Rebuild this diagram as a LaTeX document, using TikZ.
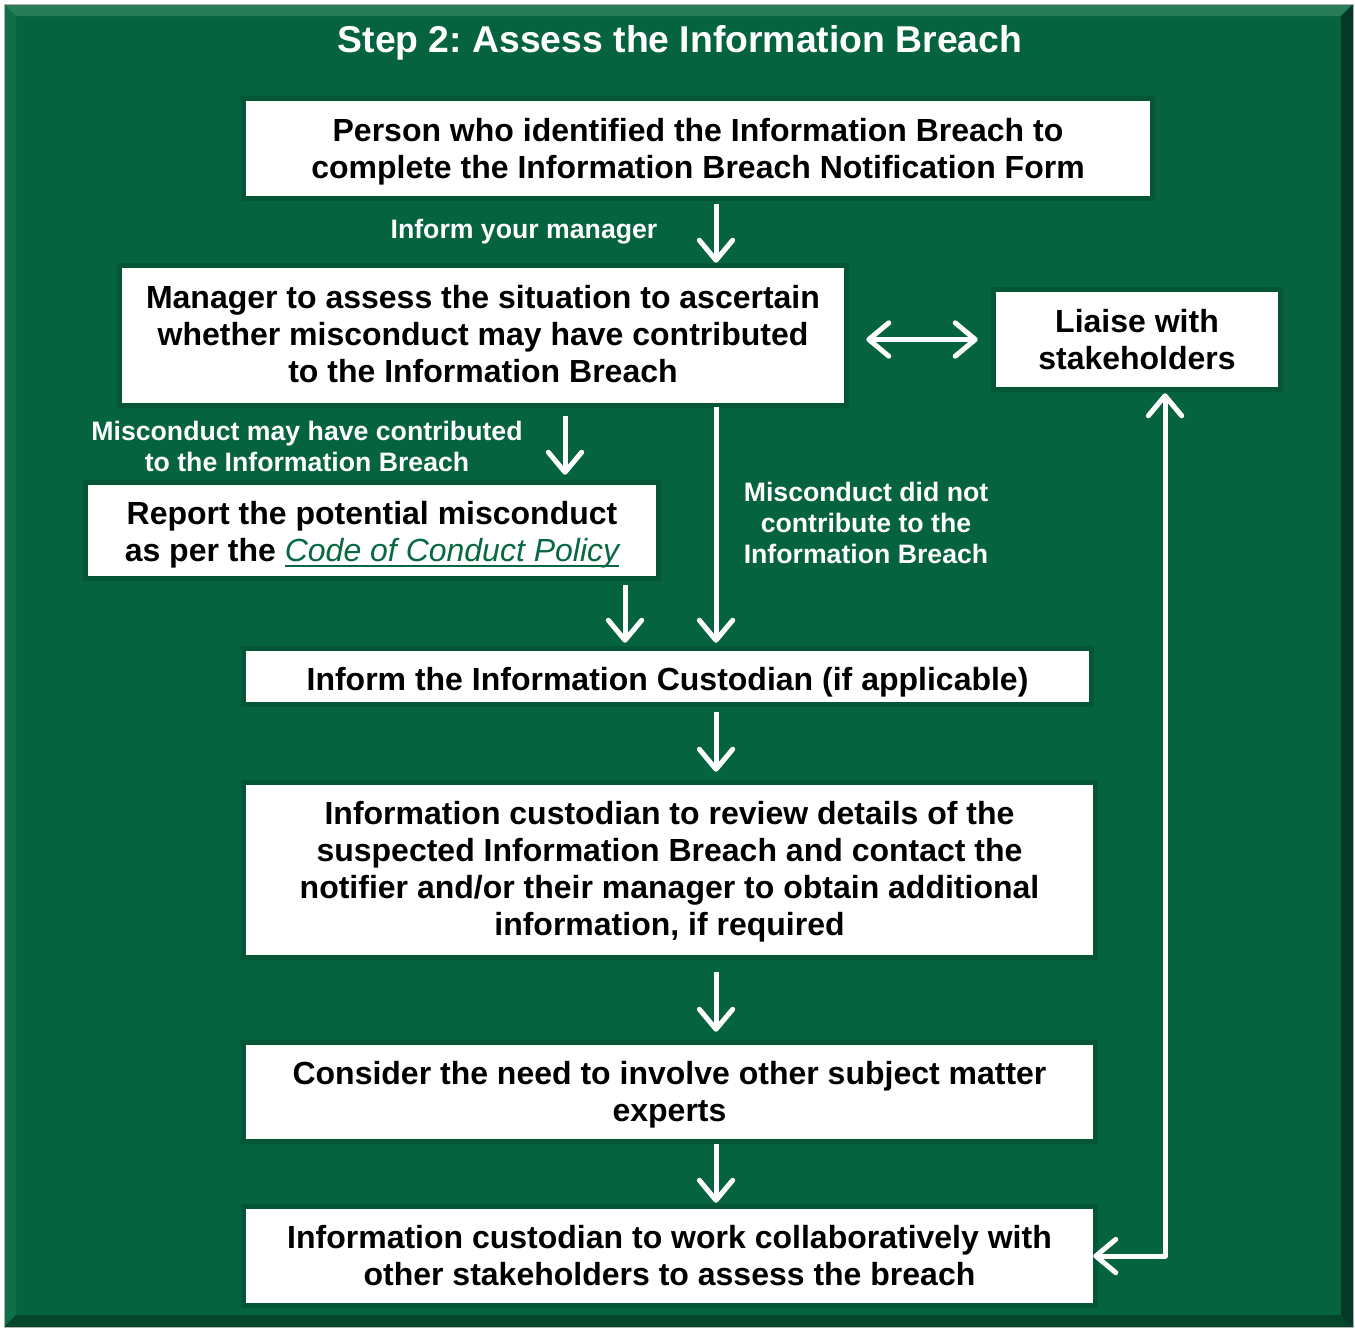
\documentclass[tikz,border=0pt]{standalone}
\usepackage{fontspec}
\setmainfont{Liberation Sans}
\usetikzlibrary{arrows.meta,calc}
\definecolor{bg}{RGB}{6,99,64}
\definecolor{shadowg}{RGB}{4,86,55}
\definecolor{bevtop}{RGB}{40,124,88}
\definecolor{bevleft}{RGB}{16,110,73}
\definecolor{bevright}{RGB}{2,58,37}
\definecolor{bevbot}{RGB}{3,70,44}
\definecolor{linkg}{RGB}{8,104,66}
\definecolor{rim}{RGB}{175,180,178}
\newsavebox{\linkbox}
\newcommand\linkul[1]{\sbox{\linkbox}{#1}\leavevmode\rlap{\rule[-4.5pt]{\wd\linkbox}{1.5pt}}\usebox{\linkbox}}
\begin{document}
\begin{tikzpicture}[x=0.75pt,y=-0.75pt,
  boxs/.style={rectangle, fill=white, inner sep=0pt,
    preaction={draw=shadowg, line width=7.5pt}},
  btxt/.style={inner sep=0pt, align=center, text=black,
    font=\fontsize{24}{27.75}\selectfont\bfseries\frenchspacing},
  lbl/.style={inner sep=0pt, align=center, text=white,
    font=\fontsize{20}{23.25}\selectfont\bfseries\frenchspacing},
  arr/.style={draw=white, line width=3.75pt, line join=round,
    -{Straight Barb[length=15pt,width=25pt,round]}},
  darr/.style={draw=white, line width=3.75pt, line join=round,
    {Straight Barb[length=15pt,width=25pt,round]}-{Straight Barb[length=15pt,width=25pt,round]}}
]
\useasboundingbox (0,0) rectangle (1355,1328);
\fill[white] (0,0) rectangle (1355,1328);
% frame
\fill[bg] (4,4) rectangle (1353,1327);
\fill[bevtop] (4,4) -- (1353,4) -- (1341,16) -- (16,16) -- cycle;
\fill[bevleft] (4,4) -- (16,16) -- (16,1315) -- (4,1327) -- cycle;
\fill[bevright] (1353,4) -- (1353,1327) -- (1341,1315) -- (1341,16) -- cycle;
\fill[bevbot] (4,1327) -- (1353,1327) -- (1341,1315) -- (16,1315) -- cycle;
\draw[rim, line width=0.75pt] (4,4) rectangle (1353,1327);

\node[inner sep=0pt, text=white, font=\fontsize{28}{32}\selectfont\bfseries\frenchspacing] (title) at (680,43) {Step 2: Assess the Information Breach};

% boxes
\node[boxs, minimum width=678pt, minimum height=71.25pt] (person) at (698,148.5) {};
\node[btxt] (personT) at (698,151.5)
  {Person who identified the Information Breach to\\complete the Information Breach Notification Form};
\node[boxs, minimum width=541.5pt, minimum height=101.25pt] (manager) at (483,335.5) {};
\node[btxt] (managerT) at (483,334.5)
  {Manager to assess the situation to ascertain\\whether misconduct may have contributed\\to the Information Breach};
\node[boxs, minimum width=211.5pt, minimum height=71.25pt] (liaise) at (1137,339.5) {};
\node[btxt] (liaiseT) at (1137,339.5) {Liaise with\\stakeholders};
\node[boxs, minimum width=426pt, minimum height=68.25pt] (report) at (372,530.5) {};
\node[btxt] (reportT) at (372,534.5)
  {Report the potential misconduct\\as per the \textcolor{linkg}{\linkul{\mdseries\itshape Code of Conduct Policy}}};
\node[boxs, minimum width=632.25pt, minimum height=38.25pt] (custodian) at (667.5,676.5) {};
\node[btxt] (custodianT) at (667.5,682.5) {Inform the Information Custodian (if applicable)};
\node[boxs, minimum width=635.25pt, minimum height=127.5pt] (review) at (669.5,870) {};
\node[btxt] (reviewT) at (669.5,872)
  {Information custodian to review details of the\\suspected Information Breach and contact the\\notifier and/or their manager to obtain additional\\information, if required};
\node[boxs, minimum width=635.25pt, minimum height=70.5pt] (consider) at (669.5,1092) {};
\node[btxt] (considerT) at (669.5,1095)
  {Consider the need to involve other subject matter\\experts};
\node[boxs, minimum width=635.25pt, minimum height=70.5pt] (collab) at (669.5,1256) {};
\node[btxt] (collabT) at (669.5,1256)
  {Information custodian to work collaboratively with\\other stakeholders to assess the breach};

% labels
\node[lbl] (l1) at (524,232) {Inform your manager};
\node[lbl] (l2) at (307,446) {Misconduct may have contributed\\to the Information Breach};
\node[lbl] (l3) at (866,523) {Misconduct did not\\contribute to the\\Information Breach};

% helper coordinates
\coordinate (c716) at (716,0);
\coordinate (c565) at (565,0);
\coordinate (c625) at (625,0);
\coordinate (lx) at (1165,0);

% arrows
\draw[arr, shorten <=6pt, shorten >=3.75pt] (person.south -| c716) -- (manager.north -| c716);
\draw[arr, shorten <=9.75pt, shorten >=7.5pt] (manager.south -| c565) -- (report.north -| c565);
\draw[arr, shorten <=3pt, shorten >=6pt] (manager.south -| c716) -- (custodian.north -| c716);
\draw[arr, shorten <=6.75pt, shorten >=6pt] (report.south -| c625) -- (custodian.north -| c625);
\draw[arr, shorten <=7.5pt, shorten >=9.75pt] (custodian.south -| c716) -- (review.north -| c716);
\draw[arr, shorten <=12.75pt, shorten >=9.75pt] (review.south -| c716) -- (consider.north -| c716);
\draw[arr, shorten <=3.75pt, shorten >=4.5pt] (consider.south -| c716) -- (collab.north -| c716);
\draw[darr, shorten <=16.5pt, shorten >=13.5pt] (manager.east |- liaise.west) -- (liaise.west);
\draw[darr, shorten >=4.5pt] (collab.east) -- (collab.east -| lx) -- (liaise.south -| lx);
\end{tikzpicture}
\end{document}
